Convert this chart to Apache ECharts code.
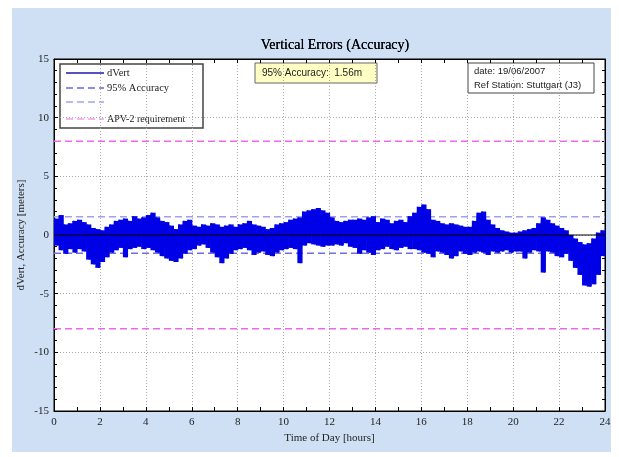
<!DOCTYPE html>
<html>
<head>
<meta charset="utf-8">
<script src="https://cdn.jsdelivr.net/npm/echarts@6/dist/echarts.min.js"></script>
<style>
html,body{margin:0;padding:0;background:#fff;}
#chart{width:619px;height:457px;}
</style>
</head>
<body>
<div id="chart"></div>
<script>
// ---- data ----
const binStep = 0.2; // hours per envelope bin
// upper extreme of dVert in each 0.2 h bin (m)
const dVertHigh = [
 1.4,1.7,0.9,1.0,1.2,1.3,1.1,0.9,0.6,0.5,
 0.4,0.7,0.9,1.2,1.3,1.4,1.2,1.6,1.4,1.5,
 1.7,1.9,1.5,1.2,1.1,0.8,0.5,0.9,1.2,1.3,
 0.8,0.7,0.9,0.8,1.0,0.9,0.7,0.8,0.9,0.7,
 0.9,1.0,1.2,0.9,0.8,0.7,0.5,0.6,0.9,1.0,
 1.1,1.3,1.4,1.5,2.0,2.1,2.2,2.3,2.1,1.9,
 1.5,1.2,1.1,1.2,1.3,1.3,1.4,1.3,1.5,1.6,
 1.1,1.4,1.3,1.0,1.2,1.3,1.1,1.6,1.9,2.4,
 2.6,2.2,1.3,1.2,1.0,0.9,1.0,0.9,0.8,0.7,
 0.7,1.2,1.9,2.0,1.3,0.9,0.6,0.4,0.3,0.2,
 0.2,0.3,0.4,0.5,0.6,1.0,1.5,1.3,1.0,0.8,
 0.6,0.4,0.0,-0.3,-0.6,-0.8,-0.7,-0.3,0.2,0.4
];
// lower extreme of dVert in each 0.2 h bin (m)
const dVertLow = [
 -0.9,-1.3,-1.6,-1.2,-1.5,-1.2,-1.4,-2.1,-2.5,-2.8,
 -2.3,-1.9,-1.5,-1.3,-1.1,-1.9,-1.2,-1.1,-1.0,-1.2,
 -1.1,-1.3,-1.5,-1.8,-2.0,-2.2,-2.3,-2.0,-1.6,-1.3,
 -1.2,-0.9,-0.8,-1.1,-1.5,-1.9,-2.4,-2.0,-1.6,-1.3,
 -1.2,-1.1,-1.3,-1.7,-1.5,-1.4,-1.7,-1.8,-1.5,-1.3,
 -1.2,-1.1,-1.2,-2.4,-0.9,-0.7,-0.8,-0.9,-1.0,-0.9,
 -0.9,-0.8,-0.9,-0.7,-1.0,-1.1,-1.6,-1.3,-1.5,-1.7,
 -1.3,-1.2,-1.0,-1.2,-1.3,-1.1,-1.0,-1.2,-1.2,-1.3,
 -1.5,-1.6,-1.9,-1.4,-1.5,-1.7,-2.0,-1.8,-1.4,-1.6,
 -1.7,-1.5,-1.4,-1.5,-1.7,-1.4,-1.5,-1.4,-1.3,-1.5,
 -1.4,-1.4,-2.0,-1.5,-1.3,-1.4,-3.2,-1.4,-1.5,-1.8,
 -1.9,-1.6,-2.2,-2.8,-3.4,-4.3,-4.4,-4.2,-3.4,-1.8
];
const accuracy95 = 1.56;   // m
const apv2Limit = 8;       // m
const xTicks = [0, 24, 2]; // min, max, interval (hours)
const yTicks = [-15, 15, 5];

// ---- build trace from the arrays ----
const binData = dVertHigh.map((h, i) => [i * binStep, h, dVertLow[i]]);
const trace = [];
for (let i = 0; i < dVertHigh.length; i++) {
  trace.push([i * binStep + binStep * 0.25, dVertHigh[i]]);
  trace.push([i * binStep + binStep * 0.75, dVertLow[i]]);
}

const serif = '"Liberation Serif","DejaVu Serif",serif';
const sans = '"Liberation Sans",Arial,sans-serif';
const traceColor = '#0000e6';

function hline(v, color, width, type, z) {
  return {
    type: 'line', data: [[xTicks[0], v], [xTicks[1], v]], showSymbol: false, silent: true,
    lineStyle: {color: color, width: width, type: type}, z: z, animation: false
  };
}

const chart = echarts.init(document.getElementById('chart'));
const axisCommon = {
  axisLine: {show: true, onZero: false, lineStyle: {color: '#000', width: 1}},
  axisTick: {show: true, inside: true, length: 4, lineStyle: {color: '#000'}},
  axisLabel: {fontFamily: serif, fontSize: 11, color: '#222'},
};
chart.setOption({
  animation: false,
  title: {
    text: 'Vertical Errors (Accuracy)', left: 330, top: 33, textAlign: 'center',
    textStyle: {fontFamily: serif, fontSize: 14, fontWeight: 'normal', color: '#000', textShadowColor: '#000', textShadowBlur: 0.6}
  },
  grid: {left: 54, right: 14, top: 59, bottom: 46, show: true, backgroundColor: '#fff', borderColor: '#000', borderWidth: 1},
  graphic: [
    {type: 'rect', z: -10, shape: {x: 12, y: 8, width: 599, height: 444}, style: {fill: '#cfe0f5'}},
    // legend box
    {type: 'group', z: 100, children: [
      {type: 'rect', shape: {x: 60, y: 64, width: 143, height: 64}, style: {fill: '#fff', stroke: '#444', lineWidth: 1.5}},
      {type: 'line', shape: {x1: 66, y1: 73, x2: 104, y2: 73}, style: {stroke: '#1a1ab0', lineWidth: 1.5}},
      {type: 'text', style: {x: 107, y: 73, text: 'dVert', fontFamily: serif, fontSize: 10.5, fill: '#222', verticalAlign: 'middle'}},
      {type: 'line', shape: {x1: 66, y1: 88, x2: 104, y2: 88}, style: {stroke: '#6a6ad8', lineWidth: 1.5, lineDash: [7, 4]}},
      {type: 'text', style: {x: 107, y: 88, text: '95% Accuracy', fontFamily: serif, fontSize: 10.5, fill: '#222', verticalAlign: 'middle'}},
      {type: 'line', shape: {x1: 66, y1: 102, x2: 104, y2: 102}, style: {stroke: '#a4a4ee', lineWidth: 1.5, lineDash: [7, 4]}},
      {type: 'line', shape: {x1: 66, y1: 119, x2: 104, y2: 119}, style: {stroke: '#f0a0f0', lineWidth: 1.5, lineDash: [7, 4]}},
      {type: 'text', style: {x: 107, y: 119, text: 'APV-2 requirement', fontFamily: serif, fontSize: 10, fill: '#222', verticalAlign: 'middle'}}
    ]},
    // accuracy annotation
    {type: 'group', z: 100, children: [
      {type: 'rect', shape: {x: 255, y: 63, width: 122, height: 20}, style: {fill: '#ffffc4', stroke: '#666', lineWidth: 1}},
      {type: 'text', style: {x: 262, y: 73, text: '95% Accuracy:  1.56m', fontFamily: sans, fontSize: 10, fill: '#222', verticalAlign: 'middle'}}
    ]},
    // date / station box
    {type: 'group', z: 100, children: [
      {type: 'rect', shape: {x: 468, y: 63, width: 126, height: 30}, style: {fill: '#fff', stroke: '#444', lineWidth: 1}},
      {type: 'text', style: {x: 474, y: 71, text: 'date: 19/06/2007', fontFamily: sans, fontSize: 9.5, fill: '#222', verticalAlign: 'middle'}},
      {type: 'text', style: {x: 474, y: 85, text: 'Ref Station: Stuttgart (J3)', fontFamily: sans, fontSize: 9.5, fill: '#222', verticalAlign: 'middle'}}
    ]}
  ],
  xAxis: [
    Object.assign({}, axisCommon, {
      type: 'value', min: xTicks[0], max: xTicks[1], interval: xTicks[2], position: 'bottom',
      name: 'Time of Day [hours]', nameLocation: 'middle', nameGap: 21,
      nameTextStyle: {fontFamily: serif, fontSize: 11, color: '#222'},
      minorTick: {show: true, splitNumber: 2, length: 4, lineStyle: {color: '#000'}},
      axisLabel: {fontFamily: serif, fontSize: 11, color: '#222', margin: 6},
      splitLine: {show: true, lineStyle: {color: '#aaa', type: [1, 2], width: 1}}
    }),
    Object.assign({}, axisCommon, {
      type: 'value', min: xTicks[0], max: xTicks[1], interval: xTicks[2], position: 'top',
      minorTick: {show: true, splitNumber: 2, length: 4, lineStyle: {color: '#000'}},
      axisLabel: {show: false}, splitLine: {show: false}
    })
  ],
  yAxis: [
    Object.assign({}, axisCommon, {
      type: 'value', min: yTicks[0], max: yTicks[1], interval: yTicks[2], position: 'left',
      name: 'dVert, Accuracy [meters]', nameLocation: 'middle', nameGap: 27, nameMoveOverlap: false,
      nameTextStyle: {fontFamily: serif, fontSize: 11, color: '#222'},
      minorTick: {show: true, splitNumber: 5, length: 3, lineStyle: {color: '#000'}},
      axisLabel: {fontFamily: serif, fontSize: 11, color: '#222', margin: 5},
      splitLine: {show: true, lineStyle: {color: '#aaa', type: [1, 2], width: 1}}
    }),
    Object.assign({}, axisCommon, {
      type: 'value', min: yTicks[0], max: yTicks[1], interval: yTicks[2], position: 'right',
      minorTick: {show: true, splitNumber: 5, length: 3, lineStyle: {color: '#000'}},
      axisLabel: {show: false}, splitLine: {show: false}
    })
  ],
  series: [
    hline(apv2Limit, '#ee66ee', 1.5, [7, 4], 3),
    hline(-apv2Limit, '#ee66ee', 1.5, [7, 4], 3),
    hline(accuracy95, '#a0a0ee', 1.5, [7, 4], 3),
    hline(-accuracy95, '#7070dd', 1.5, [7, 4], 3),
    {
      type: 'custom', name: 'dVert envelope', data: binData, silent: true, z: 4,
      encode: {x: 0, y: [1, 2]},
      renderItem: function (params, api) {
        const t = api.value(0);
        const p1 = api.coord([t, api.value(1)]);
        const p2 = api.coord([t + binStep, api.value(2)]);
        return {type: 'rect', shape: {x: p1[0], y: p1[1], width: p2[0] - p1[0] + 0.6, height: p2[1] - p1[1]},
                style: {fill: traceColor}};
      }
    },
    {
      type: 'line', name: 'dVert', data: trace, showSymbol: false, silent: true,
      lineStyle: {color: traceColor, width: 1.5}, z: 5, animation: false
    },
    hline(0, '#000', 1, 'solid', 6)
  ]
});
</script>
</body>
</html>
